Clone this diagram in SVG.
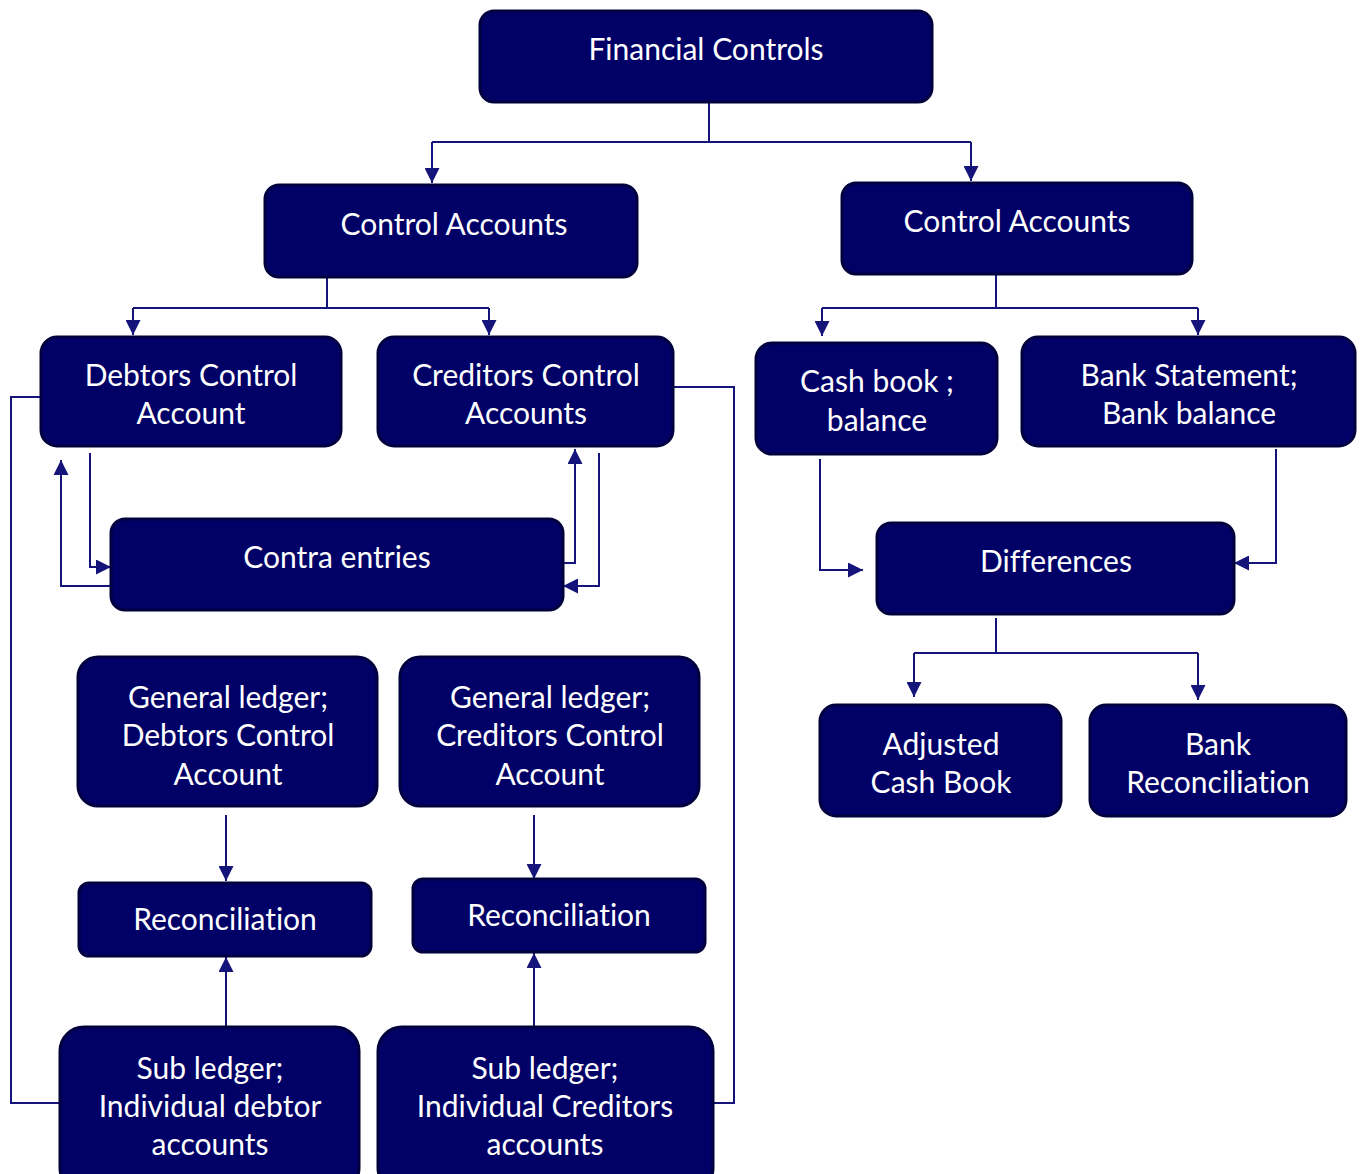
<svg xmlns="http://www.w3.org/2000/svg" width="1363" height="1174" viewBox="0 0 1363 1174">
<defs>
<style>
.n rect{fill:#000066;stroke:#00003f;stroke-width:3}
.n text{fill:#fff;font-family:Lato,"Open Sans","Liberation Sans",sans-serif;font-size:30px;text-anchor:middle;font-variant-ligatures:none}
.c path{fill:none;stroke:#14147a;stroke-width:2}
</style>
<marker id="a" viewBox="0 0 10 10" refX="10" refY="5" markerWidth="15" markerHeight="15" markerUnits="userSpaceOnUse" orient="auto">
<path d="M0,0L10,5L0,10z" fill="#14147a"/>
</marker>
</defs>
<rect width="1363" height="1174" fill="#fff"/>
<g class="c">
<path d="M709,102V142M432,142H971"/>
<path d="M432,142V183" marker-end="url(#a)"/>
<path d="M971,142V181" marker-end="url(#a)"/>
<path d="M327,277V308M133,308H489"/>
<path d="M133,308V335" marker-end="url(#a)"/>
<path d="M489,308V335" marker-end="url(#a)"/>
<path d="M996,274V308M822,308H1198"/>
<path d="M822,308V336" marker-end="url(#a)"/>
<path d="M1198,308V335" marker-end="url(#a)"/>
<path d="M90,453V567H111" marker-end="url(#a)"/>
<path d="M111,586H61V460" marker-end="url(#a)"/>
<path d="M563,563H575V449" marker-end="url(#a)"/>
<path d="M599,453V586H563" marker-end="url(#a)"/>
<path d="M673,387H734V1103H713"/>
<path d="M41,397H11V1103H60"/>
<path d="M820,459V570H863" marker-end="url(#a)"/>
<path d="M1276,449V563H1234" marker-end="url(#a)"/>
<path d="M996,618V653M914,653H1198"/>
<path d="M914,653V697" marker-end="url(#a)"/>
<path d="M1198,653V700" marker-end="url(#a)"/>
<path d="M226,815V881" marker-end="url(#a)"/>
<path d="M226,1027V957" marker-end="url(#a)"/>
<path d="M534,815V879" marker-end="url(#a)"/>
<path d="M534,1027V953" marker-end="url(#a)"/>
</g>
<g id="financial-controls" class="n"><rect x="480" y="11" width="452" height="91" rx="14"/><text x="706" y="60">Financial Controls</text></g>
<g id="control-accounts-left" class="n"><rect x="265" y="185" width="372" height="92" rx="14"/><text x="454" y="235">Control Accounts</text></g>
<g id="control-accounts-right" class="n"><rect x="842" y="183" width="350" height="91" rx="14"/><text x="1017" y="232">Control Accounts</text></g>
<g id="debtors-control" class="n"><rect x="41" y="337" width="300" height="109" rx="16"/><text x="191" y="386">Debtors Control</text><text x="191" y="424">Account</text></g>
<g id="creditors-control" class="n"><rect x="378" y="337" width="295" height="109" rx="16"/><text x="526" y="386">Creditors Control</text><text x="526" y="424">Accounts</text></g>
<g id="cash-book" class="n"><rect x="756" y="343" width="241" height="111" rx="16"/><text x="877" y="392">Cash book ;</text><text x="877" y="431">balance</text></g>
<g id="bank-statement" class="n"><rect x="1022" y="337" width="333" height="109" rx="16"/><text x="1189" y="386">Bank Statement;</text><text x="1189" y="424">Bank balance</text></g>
<g id="contra-entries" class="n"><rect x="111" y="519" width="452" height="91" rx="14"/><text x="337" y="568">Contra entries</text></g>
<g id="differences" class="n"><rect x="877" y="523" width="357" height="91" rx="14"/><text x="1056" y="572">Differences</text></g>
<g id="gl-debtors" class="n"><rect x="78" y="657" width="299" height="149" rx="20"/><text x="228" y="708">General ledger;</text><text x="228" y="746">Debtors Control</text><text x="228" y="785">Account</text></g>
<g id="gl-creditors" class="n"><rect x="400" y="657" width="299" height="149" rx="20"/><text x="550" y="708">General ledger;</text><text x="550" y="746">Creditors Control</text><text x="550" y="785">Account</text></g>
<g id="adjusted-cash-book" class="n"><rect x="820" y="705" width="241" height="111" rx="16"/><text x="941" y="755">Adjusted</text><text x="941" y="793">Cash Book</text></g>
<g id="bank-reconciliation" class="n"><rect x="1090" y="705" width="256" height="111" rx="16"/><text x="1218" y="755">Bank</text><text x="1218" y="793">Reconciliation</text></g>
<g id="reconciliation-left" class="n"><rect x="79" y="883" width="292" height="73" rx="10"/><text x="225" y="930">Reconciliation</text></g>
<g id="reconciliation-right" class="n"><rect x="413" y="879" width="292" height="73" rx="10"/><text x="559" y="926">Reconciliation</text></g>
<g id="sub-ledger-debtor" class="n"><rect x="60" y="1027" width="299" height="165" rx="24"/><text x="210" y="1079">Sub ledger;</text><text x="210" y="1117">Individual debtor</text><text x="210" y="1155">accounts</text></g>
<g id="sub-ledger-creditors" class="n"><rect x="378" y="1027" width="335" height="165" rx="24"/><text x="545" y="1079">Sub ledger;</text><text x="545" y="1117">Individual Creditors</text><text x="545" y="1155">accounts</text></g>
</svg>
